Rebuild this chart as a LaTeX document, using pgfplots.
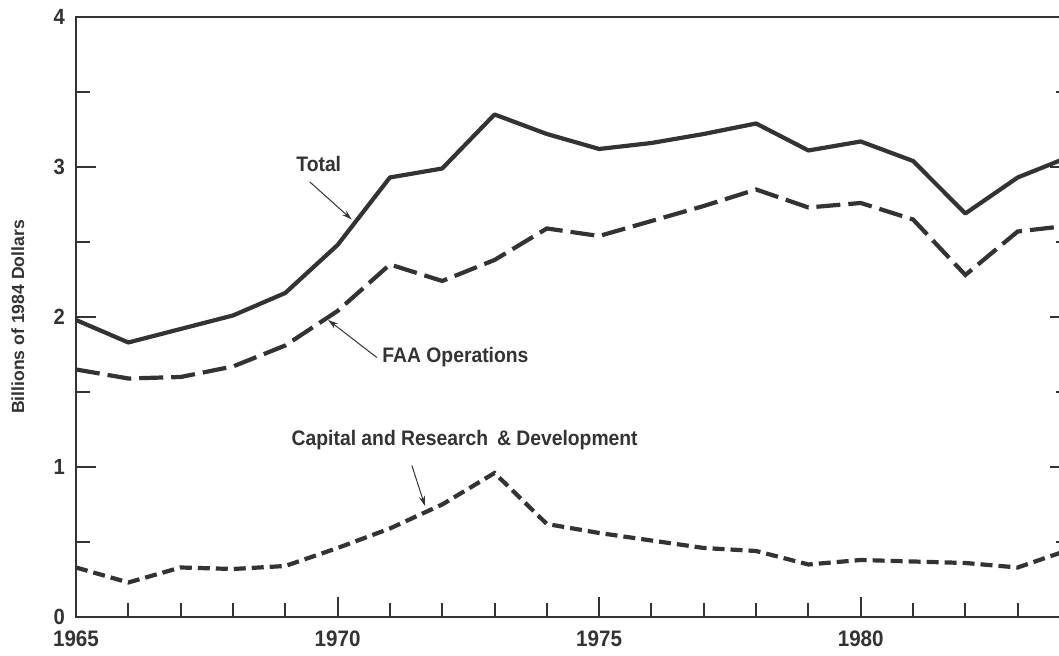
\documentclass[border=0pt]{standalone}
\usepackage{pgfplots}
\pgfplotsset{compat=1.18}
\usepackage{fontspec}
\setmainfont{Liberation Sans}
\newfontfamily\condA{Liberation Sans Bold}[FakeStretch=0.92]
\newfontfamily\condB{Liberation Sans Bold}[FakeStretch=0.92]
\newfontfamily\boldf{Liberation Sans Bold}
\usetikzlibrary{arrows.meta}
\definecolor{ink}{gray}{0.2}

\pgfplotstableread{
year total faa cap
1965 1.98 1.65 0.33
1966 1.83 1.59 0.23
1967 1.92 1.60 0.33
1968 2.01 1.67 0.32
1969 2.16 1.81 0.34
1970 2.48 2.04 0.46
1971 2.93 2.35 0.59
1972 2.99 2.24 0.75
1973 3.35 2.38 0.96
1974 3.22 2.59 0.62
1975 3.12 2.54 0.56
1976 3.16 2.64 0.51
1977 3.22 2.74 0.46
1978 3.29 2.85 0.44
1979 3.11 2.73 0.35
1980 3.17 2.76 0.38
1981 3.04 2.65 0.37
1982 2.69 2.28 0.36
1983 2.93 2.57 0.33
1984 3.07 2.61 0.45
}\datatable

\begin{document}
\begin{tikzpicture}
\path[use as bounding box, clip] (-38pt,-19.5pt) rectangle (491.5pt,308.5pt);
\begin{axis}[
  at={(0pt,0pt)}, anchor=south west,
  scale only axis, width=497pt, height=300pt,
  xmin=1965, xmax=1984, ymin=0, ymax=4,
  axis line style={line width=1.3pt, ink},
  every tick/.style={line width=1pt, ink},
  tick align=inside,
  xtick pos=left, ytick pos=both,
  xtick={1965,1970,1975,1980,1985},
  xticklabels={1965,1970,1975,1980,1985},
  minor x tick num=4,
  ytick={0,1,2,3,4},
  minor y tick num=1,
  major tick length=10pt, minor tick length=7pt,
  /pgf/number format/assume math mode=true,
  xticklabel style={font=\condA\fontsize{11.2}{13}\selectfont, text=ink, yshift=-3.5pt},
  yticklabel style={font=\condA\fontsize{11}{13}\selectfont, text=ink, xshift=-2pt},
  ylabel={Billions of 1984 Dollars},
  ylabel style={at={(axis description cs:-0.0584,0.5)}, anchor=center,
    font=\boldf\fontsize{8.8}{10}\selectfont, text=ink},
]
\addplot[ink, line width=2.1pt, line join=round] table[x=year, y=total] {\datatable};
\addplot[ink, line width=2.1pt, dash pattern=on 12pt off 4pt] table[x=year, y=faa] {\datatable};
\addplot[ink, line width=2.1pt, dash pattern=on 6pt off 3pt] table[x=year, y=cap] {\datatable};

\node[font=\condB\fontsize{10.5}{12}\selectfont, text=ink] at (axis cs:1969.64,3.02) {Total};
\draw[-{Stealth[length=5pt,width=3pt]}, ink, line width=0.5pt] (axis cs:1969.47,2.90) -- (axis cs:1970.27,2.65);
\node[anchor=west, inner sep=0pt, font=\condB\fontsize{10.5}{12}\selectfont, text=ink] at (axis cs:1970.85,1.73) {FAA Operations};
\draw[-{Stealth[length=5pt,width=3pt]}, ink, line width=0.5pt] (axis cs:1970.75,1.73) -- (axis cs:1969.82,1.98);
\node[font=\condB\fontsize{10.5}{12}\selectfont, text=ink] at (axis cs:1972.43,1.18) {Capital and Research\ \,\& Development};
\draw[-{Stealth[length=5pt,width=3pt]}, ink, line width=0.5pt] (axis cs:1971.42,1.01) -- (axis cs:1971.67,0.74);
\end{axis}
\end{tikzpicture}
\end{document}
